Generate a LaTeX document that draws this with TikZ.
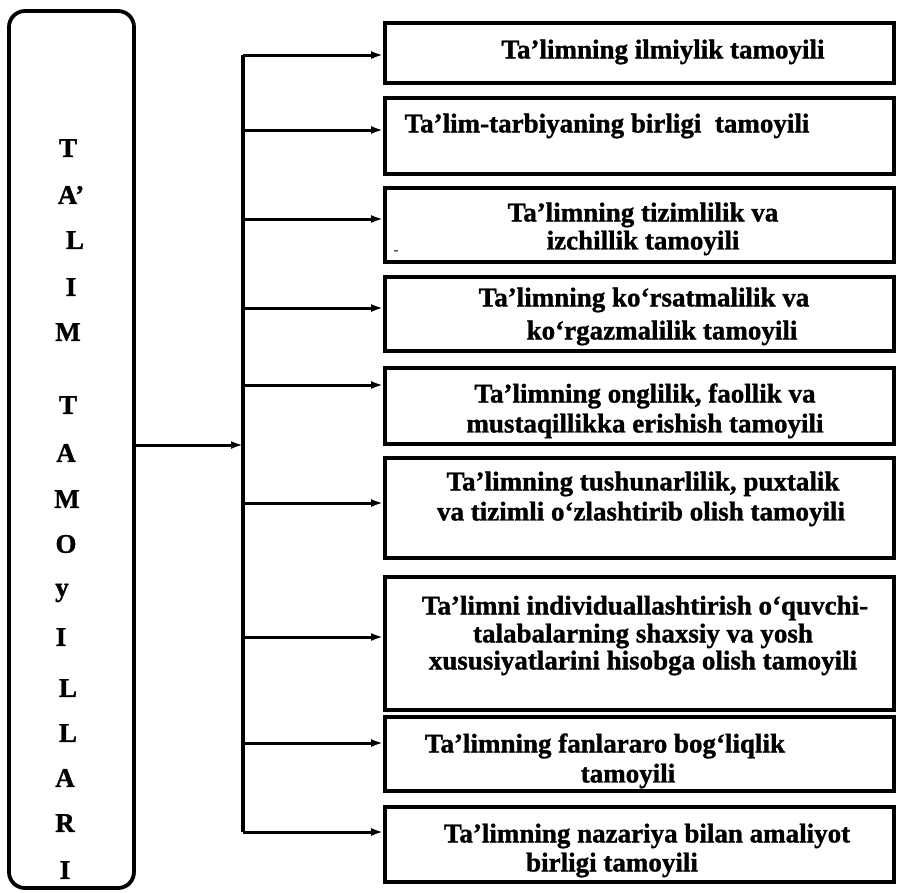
\documentclass[tikz,border=0pt]{standalone}
\usepackage{fontspec}
\setmainfont{Liberation Serif}[BoldFeatures={FakeBold=1.2}]
\usetikzlibrary{arrows.meta}
\begin{document}
\begin{tikzpicture}[x=1pt,y=-1pt,
  box/.style={draw, line width=3.8pt, minimum width=509pt, inner sep=0pt},
  mainbox/.style={draw, line width=3.8pt, rounded corners=16pt, minimum width=125pt, minimum height=877pt, inner sep=0pt},
  txt/.style={font=\fontsize{27}{30}\selectfont\bfseries, inner sep=0pt, anchor=center},
  let/.style={font=\fontsize{27}{30}\selectfont\bfseries, inner sep=0pt},
  bus/.style={line width=3.6pt},
  arr/.style={line width=3pt, -{Latex[length=12pt,width=8pt]}}]
\useasboundingbox (0,0) rectangle (897,892);
% left rounded box
\node[mainbox] (main) at (71.5,449.5) {};
\node[let] (l1) at (68,148) {T};
\node[let] (l2) at (71,195) {A’};
\node[let] (l3) at (75,240) {L};
\node[let] (l4) at (71,287) {I};
\node[let] (l5) at (68,332) {M};
\node[let] (l6) at (68,405) {T};
\node[let] (l7) at (66,453) {A};
\node[let] (l8) at (67,499) {M};
\node[let] (l9) at (66,544) {O};
\node[let] (l10) at (62,593) {y};
\node[let] (l11) at (61,637) {I};
\node[let] (l12) at (68,688) {L};
\node[let] (l13) at (68,733) {L};
\node[let] (l14) at (65,778) {A};
\node[let] (l15) at (65,823) {R};
\node[let] (l16) at (65,870) {I};
% right boxes
\node[box, minimum height=60pt] (b1) at (639.5,53) {};
\node[box, minimum height=76pt] (b2) at (639.5,136) {};
\node[box, minimum height=74pt] (b3) at (639.5,225) {};
\node[box, minimum height=74pt] (b4) at (639.5,314) {};
\node[box, minimum height=76pt] (b5) at (639.5,406) {};
\node[box, minimum height=100pt] (b6) at (639.5,508) {};
\node[box, minimum height=133pt] (b7) at (639.5,643.5) {};
\node[box, minimum height=74pt] (b8) at (639.5,754) {};
\node[box, minimum height=75pt] (b9) at (639.5,844.5) {};
% texts
\node[txt] (t1) at (663,52) {Ta’limning ilmiylik tamoyili};
\node[txt] (t2) at (607,126) {Ta’lim-tarbiyaning birligi\ \ tamoyili};
\node[txt] (t3a) at (643,215) {Ta’limning tizimlilik va};
\node[txt] (t3b) at (643,243) {izchillik tamoyili};
\node[font=\fontsize{12}{12}\selectfont\bfseries, inner sep=0pt] (dot) at (396,252) {-};
\node[txt] (t4a) at (644,300) {Ta’limning ko‘rsatmalilik va};
\node[txt] (t4b) at (662,333) {ko‘rgazmalilik tamoyili};
\node[txt] (t5a) at (645,396) {Ta’limning onglilik, faollik va};
\node[txt] (t5b) at (645,426) {mustaqillikka erishish tamoyili};
\node[txt] (t6a) at (643,484) {Ta’limning tushunarlilik, puxtalik};
\node[txt] (t6b) at (641,514) {va tizimli o‘zlashtirib olish tamoyili};
\node[txt] (t7a) at (645,608) {Ta’limni individuallashtirish o‘quvchi-};
\node[txt] (t7b) at (643,636) {talabalarning shaxsiy va yosh};
\node[txt] (t7c) at (643,663) {xususiyatlarini hisobga olish tamoyili};
\node[txt] (t8a) at (605,746) {Ta’limning fanlararo bog‘liqlik};
\node[txt] (t8b) at (628,776) {tamoyili};
\node[txt] (t9a) at (647,836) {Ta’limning nazariya bilan amaliyot};
\node[txt] (t9b) at (612,865) {birligi tamoyili};
% bus
\coordinate (c1) at (243,55);
\coordinate (c2) at (243,130);
\coordinate (c3) at (243,219);
\coordinate (c4) at (243,308);
\coordinate (c5) at (243,385);
\coordinate (c6) at (243,503);
\coordinate (c7) at (243,637);
\coordinate (c8) at (243,743);
\coordinate (c9) at (243,832);
\coordinate (cm) at (243,445);
\draw[bus] (c1) -- (c9);
\draw[arr] (main.east |- cm) -- (cm);
\foreach \i in {1,...,9} {
  \draw[arr] (c\i) -- (b\i.west |- c\i);
}
\end{tikzpicture}
\end{document}
